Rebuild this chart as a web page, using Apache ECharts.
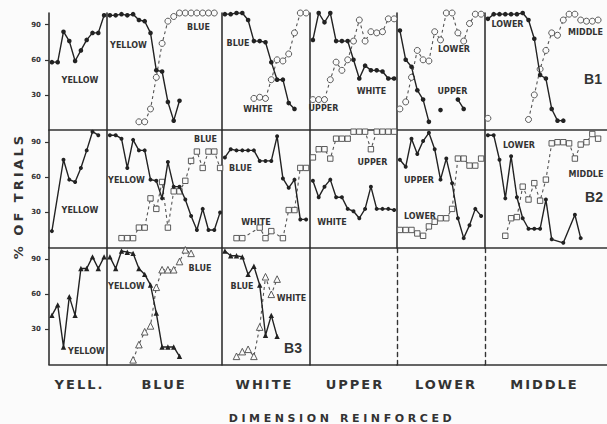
<!DOCTYPE html>
<html><head><meta charset="utf-8">
<script src="https://cdn.jsdelivr.net/npm/echarts@6/dist/echarts.min.js"></script>
<style>html,body{margin:0;padding:0;background:#fbfbfb}#c{width:607px;height:424px}</style>
</head><body><div id="c"></div>
<script>
// ---------------- DATA ----------------
const dimensions = ['YELL.', 'BLUE', 'WHITE', 'UPPER', 'LOWER', 'MIDDLE'];
const subjects = ['B1', 'B2', 'B3'];
const yTickValues = [30, 60, 90];

// B1 (circles) : % of trials per session
const b1Yell_yellow   = [58,58,84,76,59,68,77,83,83,98];
const b1Blue_yellow   = [98,98,99,98,99,94,93,83,51,50,24,8,25];
const b1Blue_blue     = [7,7,18,45,74,93,97,100,100,100,100,100,100,100];        // from session 5
const b1White_blue    = [99,99,100,100,94,76,76,75,58,43,43,23,18];
const b1White_white   = [27,28,27,43,60,59,65,83,100,100];                      // from session 5
const b1Upper_white   = [77,100,92,100,76,76,76,60,44,55,51,51,50,44,44];
const b1Upper_upper   = [26,26,26,43,58,51,60,76,94,76,84,83,84,95,95];
const b1Lower_upper   = [85,60,54,34,26,7,null,17,null,null,26,18];
const b1Lower_lower   = [18,24,45,68,60,59,84,77,100,100,83,76,91,99,99];
const b1Middle_lower  = [95,99,99,99,99,99,100,94,78,47,44,18,8,8];
const b1Middle_middle = [10,null,null,null,null,null,null,9,30,52,68,83,81,94,99,99,94,93,93,94];

// B2 (squares)
const b2Yell_yellow   = [14,null,75,58,56,68,83,99,96];
const b2Blue_yellow   = [96,96,93,68,92,83,83,58,57,42,73,52,52,41,27,15,33,15,15,30];
const b2Blue_blue     = [8,8,8,17,17,42,33,56,17,48,48,57,74,82,68,82,82,68];    // from session 2
const b2White_blue    = [77,84,83,83,83,83,74,74,74,95,59,51,58,24,24];
const b2White_white   = [8,8,null,null,17,8,14,null,8,32,32,68,68];              // from session 2
const b2Upper_white   = [57,43,52,58,43,43,33,31,25,33,52,33,33,33,32];
const b2Upper_upper   = [77,84,84,76,93,93,93,99,99,99,84,99,99,99,99];
const b2Lower_upper   = [75,69,93,80,91,98,84,58,76,55,25,8,19,33,27];
const b2Lower_lower   = [15,15,15,12,10,18,22,25,25,33,76,76,70,70,76];
const b2Middle_lower  = [96,96,75,42,78,43,25,16,16,16,41,7,null,4,null,28,8];
const b2Middle_middle = [10,25,26,52,41,55,40,58,89,90,90,89,76,88,90,97,93];   // from session 3

// B3 (triangles)
const b3Yell_yellow   = [42,51,15,58,42,82,82,92,82,92];
const b3Blue_yellow   = [92,82,97,96,95,82,77,68,44,15,15,15,7];
const b3Blue_blue     = [4,17,28,33,66,81,81,81,88,98,95];                       // from session 4
const b3White_blue    = [97,93,93,92,77,84,68,25,42,24];
const b3White_white   = [7,11,13,7,32,75,60,73];                                 // from session 2

// series table: [row, col, firstSession, values, kind, breakAtGaps]
const seriesTable = [
  [0,0,0,b1Yell_yellow,'solid',false],
  [0,1,0,b1Blue_yellow,'solid',false],
  [0,1,5,b1Blue_blue,'open',false],
  [0,2,0,b1White_blue,'solid',false],
  [0,2,5,b1White_white,'open',false],
  [0,3,0,b1Upper_white,'solid',false],
  [0,3,0,b1Upper_upper,'open',false],
  [0,4,0,b1Lower_upper,'solid',true],
  [0,4,0,b1Lower_lower,'open',false],
  [0,5,0,b1Middle_lower,'solid',false],
  [0,5,0,b1Middle_middle,'open',true],
  [1,0,0,b2Yell_yellow,'solid',false],
  [1,1,0,b2Blue_yellow,'solid',false],
  [1,1,2,b2Blue_blue,'open',false],
  [1,2,0,b2White_blue,'solid',false],
  [1,2,2,b2White_white,'open',false],
  [1,3,0,b2Upper_white,'solid',false],
  [1,3,0,b2Upper_upper,'open',false],
  [1,4,0,b2Lower_upper,'solid',false],
  [1,4,0,b2Lower_lower,'open',false],
  [1,5,0,b2Middle_lower,'solid',false],
  [1,5,3,b2Middle_middle,'open',false],
  [2,0,0,b3Yell_yellow,'solid',false],
  [2,1,0,b3Blue_yellow,'solid',false],
  [2,1,4,b3Blue_blue,'open',false],
  [2,2,0,b3White_blue,'solid',false],
  [2,2,2,b3White_white,'open',false]
];

// panel annotations (text, x, y)
const panelLabels = [
  ['YELLOW',80,80],['YELLOW',128.5,45],['BLUE',198.5,27],['BLUE',238,43],['WHITE',258,109],
  ['UPPER',323.5,108],['WHITE',371.5,91],['LOWER',454,49],['UPPER',452.5,91],
  ['LOWER',507.5,24],['MIDDLE',585.5,32],
  ['YELLOW',80,210],['YELLOW',126.5,180],['BLUE',205.5,139],['BLUE',240.5,168],['WHITE',256,222],
  ['UPPER',372.5,162],['WHITE',332,222],['UPPER',419,180],['LOWER',420,216],
  ['LOWER',519,145],['MIDDLE',586,174],
  ['YELLOW',86.5,351],['YELLOW',126.5,286],['BLUE',200,268],['BLUE',242,286],['WHITE',291.5,298]
];
const subjectLabelPos = [[593,79],[594,197],[293,348]];
const dimLabelPos = [79.5,164,264.5,355,446,544.5];

// ---------------- LAYOUT ----------------
const COL_LEFT = [49,107,222,310,397,485];
const EDGE = 607;
const ROW_TOP = [13,130.5,247.5];
const ROW_H = 117;
const STEP = 5.8;
const FRAME = '#333';
const INK = '#222';

const grids=[], xAxes=[], yAxes=[];
for (let r=0;r<3;r++) for (let c=0;c<6;c++) {
  const idx=r*6+c;
  const w=(c<5?COL_LEFT[c+1]:EDGE)-COL_LEFT[c];
  grids.push({left:COL_LEFT[c],top:ROW_TOP[r],width:w,height:ROW_H,containLabel:false,outerBoundsMode:'none'});
  xAxes.push({gridIndex:idx,type:'value',min:-0.5,max:w/STEP-0.5,position:'bottom',
    axisLine:{show:true,onZero:false,lineStyle:{color:FRAME,width:1.6}},
    axisTick:{show:false},axisLabel:{show:false},splitLine:{show:false}});
  const dashed = (r===2 && c>=4);
  yAxes.push({gridIndex:idx,type:'value',min:0,max:100,interval:30,position:'left',
    axisLine:{show:true,onZero:false,lineStyle:{color:FRAME,width:dashed?1.4:1.6,type:dashed?[4,4]:'solid'}},
    axisTick:{show:c===0,length:4,inside:false,customValues:yTickValues,lineStyle:{color:FRAME,width:1.2}},
    axisLabel:{show:c===0,customValues:yTickValues,fontSize:7,fontWeight:'bold',color:'#333',margin:8,fontFamily:'DejaVu Sans'},
    splitLine:{show:false}});
}

const SYM = [
  {solid:'circle',solidSize:4.6,open:'circle',openSize:6},
  {solid:'circle',solidSize:4,open:'rect',openSize:5.4},
  {solid:'triangle',solidSize:5.4,open:'triangle',openSize:6.6}
];

function toPoints(start, vals, breakGaps){
  const out=[];
  vals.forEach((v,i)=>{ if(v==null){ if(breakGaps) out.push([start+i,'-']); } else out.push([start+i,v]); });
  return out;
}

const series = seriesTable.map(([r,c,start,vals,kind,gaps])=>{
  const idx=r*6+c, s=SYM[r], solid=kind==='solid';
  return {type:'line',xAxisIndex:idx,yAxisIndex:idx,data:toPoints(start,vals,gaps),
    connectNulls:!gaps,symbol:solid?s.solid:s.open,symbolSize:solid?s.solidSize:s.openSize,
    lineStyle:solid?{color:INK,width:1.4}:{color:'#555',width:1.1,type:[3,3]},
    itemStyle:solid?{color:INK}:{color:'#fbfbfb',borderColor:'#4a4a4a',borderWidth:0.9},
    z:solid?4:3,silent:true,animation:false};
});

const graphic = [];
panelLabels.forEach(([t,x,y])=>graphic.push({type:'text',x,y,silent:true,
  style:{text:t,fill:'#333',font:'bold 8px "DejaVu Sans"',align:'center',verticalAlign:'middle',textAlign:'center',textVerticalAlign:'middle'}}));
subjects.forEach((t,i)=>graphic.push({type:'text',x:subjectLabelPos[i][0],y:subjectLabelPos[i][1],silent:true,
  style:{text:t,fill:'#333',font:'bold 14px "Liberation Sans"',align:'center',verticalAlign:'middle',textAlign:'center',textVerticalAlign:'middle'}}));
dimensions.forEach((t,i)=>graphic.push({type:'text',x:dimLabelPos[i],y:384,silent:true,
  style:{text:t,fill:'#333',font:'bold 13px "DejaVu Sans"',align:'center',verticalAlign:'middle',textAlign:'center',textVerticalAlign:'middle'}}));
graphic.push({type:'text',x:342,y:418,silent:true,
  style:{text:'DIMENSION REINFORCED',fill:'#333',font:'bold 11px "DejaVu Sans"',align:'center',verticalAlign:'middle',textAlign:'center',textVerticalAlign:'middle'}});
graphic.push({type:'text',x:18,y:196,rotation:Math.PI/2,silent:true,
  style:{text:'% OF TRIALS',fill:'#333',font:'bold 13px "DejaVu Sans"',align:'center',verticalAlign:'middle',textAlign:'center',textVerticalAlign:'middle'}});

const chart = echarts.init(document.getElementById('c'), null, {renderer:'svg',width:607,height:424});
chart.setOption({backgroundColor:'#fbfbfb',animation:false,grid:grids,xAxis:xAxes,yAxis:yAxes,series,graphic});

// letter spacing for the spaced-out axis captions
function spaceOut(){
  const spacing = {'DIMENSION REINFORCED':3.6,'% OF TRIALS':3};
  dimensions.forEach(d=>spacing[d]=2);
  document.querySelectorAll('#c svg text').forEach(t=>{
    const fs=parseFloat(getComputedStyle(t).fontSize)||0;
    const s=spacing[t.textContent];
    if(s && fs>=10.5){ t.setAttribute('letter-spacing',s); t.style.letterSpacing=s+'px'; }
  });
}
spaceOut();
setTimeout(spaceOut,50);
</script></body></html>
